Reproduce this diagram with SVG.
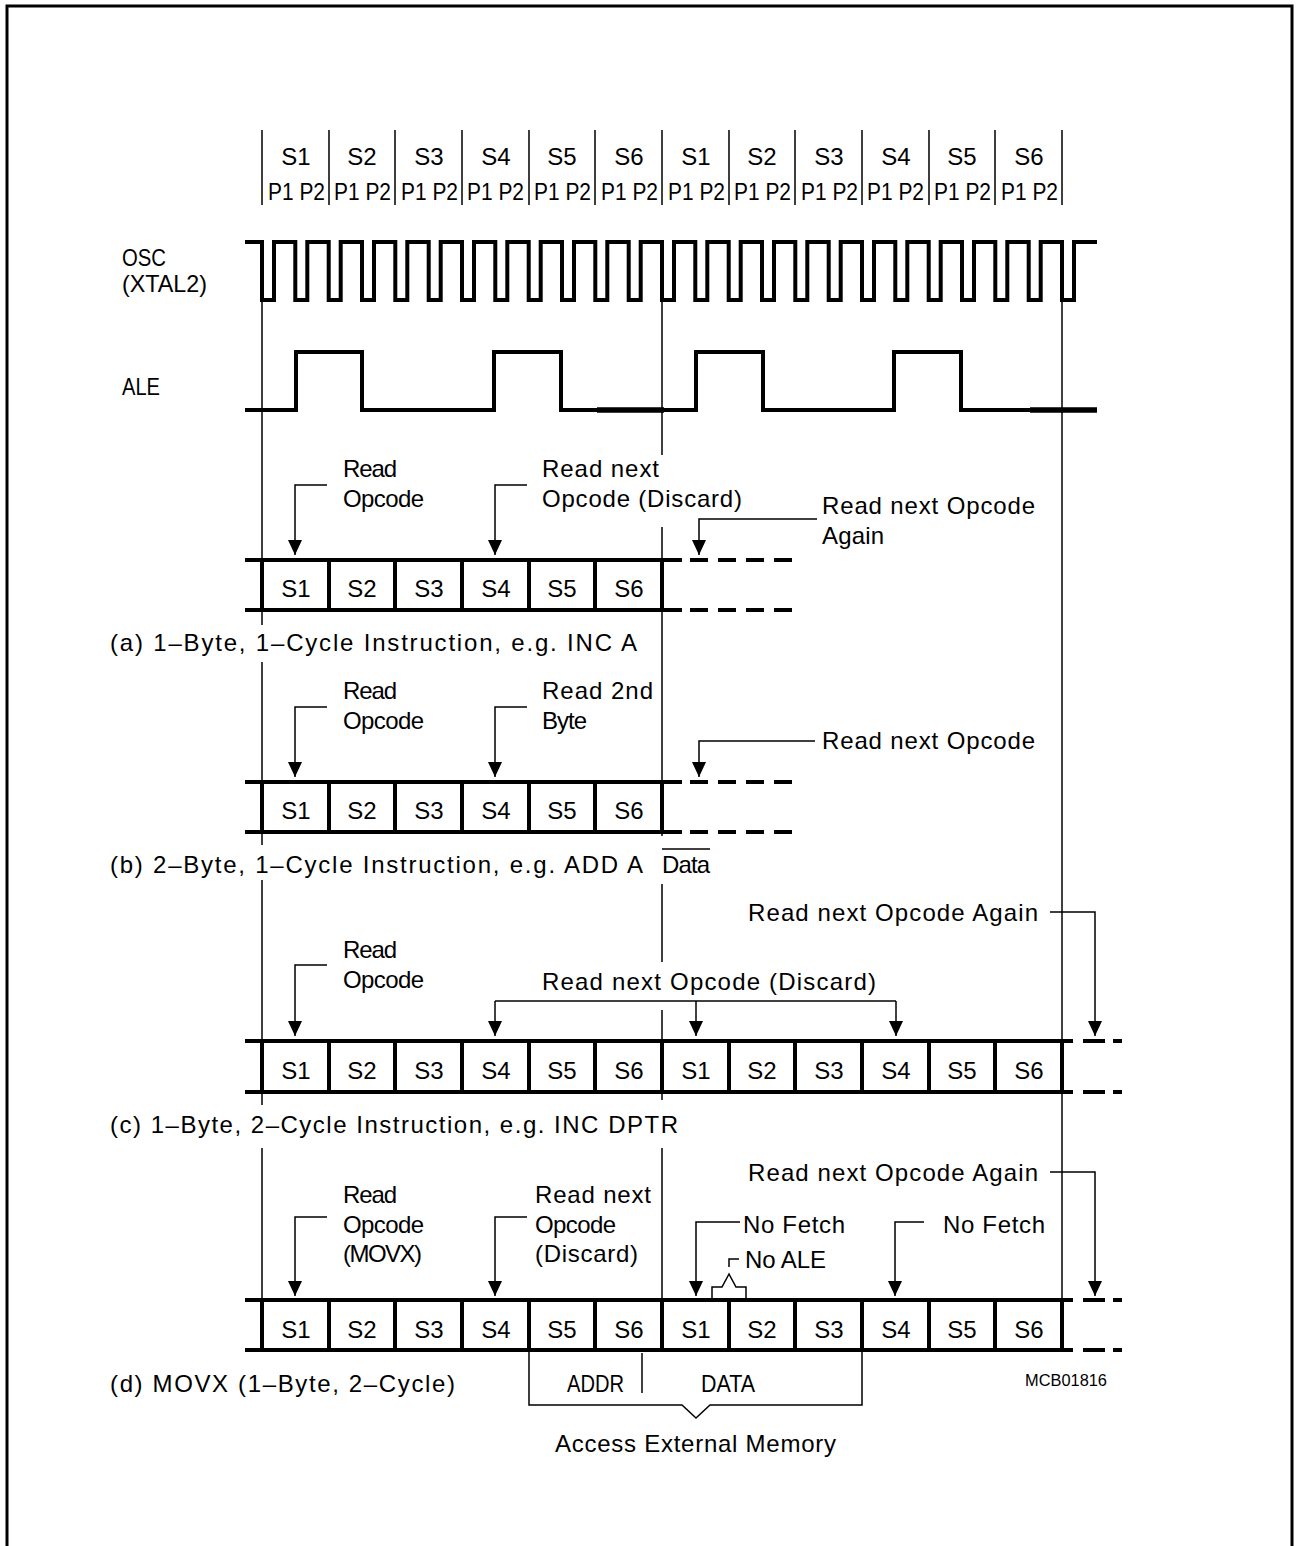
<svg xmlns="http://www.w3.org/2000/svg" width="1297" height="1546" viewBox="0 0 1297 1546">
<style>
text{font-family:"Liberation Sans",Arial,sans-serif;font-size:24px;fill:#000}
.c{text-anchor:middle}
.thin{stroke:#000;stroke-width:1.5;fill:none}
.thick{stroke:#000;stroke-width:4;fill:none}
.dash{stroke:#000;stroke-width:4;fill:none;stroke-dasharray:18 10}
.dash2{stroke:#000;stroke-width:4;fill:none;stroke-dasharray:22 8}
.arr{stroke:#000;stroke-width:1.5;fill:none;marker-end:url(#ah)}
.wave{stroke:#000;stroke-width:4;fill:none;stroke-linejoin:miter}
</style>
<defs>
<marker id="ah" markerUnits="userSpaceOnUse" markerWidth="16" markerHeight="16" refX="15" refY="7" orient="auto">
<path d="M0,0 L15,7 L0,14 z" fill="#000"/>
</marker>
</defs>
<rect width="1297" height="1546" fill="#fff"/>
<path d="M7,1546 V6 H1292 V1546" fill="none" stroke="#000" stroke-width="3"/>

<g id="header">
<path class="thin" d="M262,130V205M329,130V205M395,130V205M462,130V205M529,130V205M595,130V205M662,130V205M729,130V205M795,130V205M862,130V205M929,130V205M995,130V205M1062,130V205"/>
<text class="c" x="296" y="165">S1</text><text class="c" x="362" y="165">S2</text><text class="c" x="429" y="165">S3</text><text class="c" x="496" y="165">S4</text><text class="c" x="562" y="165">S5</text><text class="c" x="629" y="165">S6</text>
<text class="c" x="696" y="165">S1</text><text class="c" x="762" y="165">S2</text><text class="c" x="829" y="165">S3</text><text class="c" x="896" y="165">S4</text><text class="c" x="962" y="165">S5</text><text class="c" x="1029" y="165">S6</text>
<g style="font-size:23px">
<text x="268" y="200" textLength="57" lengthAdjust="spacingAndGlyphs">P1 P2</text><text x="334" y="200" textLength="57" lengthAdjust="spacingAndGlyphs">P1 P2</text><text x="401" y="200" textLength="57" lengthAdjust="spacingAndGlyphs">P1 P2</text><text x="467" y="200" textLength="57" lengthAdjust="spacingAndGlyphs">P1 P2</text><text x="534" y="200" textLength="57" lengthAdjust="spacingAndGlyphs">P1 P2</text><text x="601" y="200" textLength="57" lengthAdjust="spacingAndGlyphs">P1 P2</text>
<text x="668" y="200" textLength="57" lengthAdjust="spacingAndGlyphs">P1 P2</text><text x="734" y="200" textLength="57" lengthAdjust="spacingAndGlyphs">P1 P2</text><text x="801" y="200" textLength="57" lengthAdjust="spacingAndGlyphs">P1 P2</text><text x="867" y="200" textLength="57" lengthAdjust="spacingAndGlyphs">P1 P2</text><text x="934" y="200" textLength="57" lengthAdjust="spacingAndGlyphs">P1 P2</text><text x="1001" y="200" textLength="57" lengthAdjust="spacingAndGlyphs">P1 P2</text>
</g>
</g>

<g id="gridlines">
<path class="thin" d="M262,300V625M262,662V845M262,880V1105M262,1148V1300"/>
<path class="thin" d="M662,300V455M662,527V836M662,884V962M662,1010V1100M662,1148V1300"/>
<path class="thin" d="M1062,300V1300"/>
</g>

<g id="osc">
<text x="122" y="266" textLength="44" lengthAdjust="spacingAndGlyphs">OSC</text>
<text x="122" y="292" textLength="85" lengthAdjust="spacingAndGlyphs">(XTAL2)</text>
<path class="wave" d="M245,242 H262 V300 H274 V242 H295.3 V300 H307.3 V242 H328.7 V300 H340.7 V242 H362 V300 H374 V242 H395.3 V300 H407.3 V242 H428.7 V300 H440.7 V242 H462 V300 H474 V242 H495.3 V300 H507.3 V242 H528.7 V300 H540.7 V242 H562 V300 H574 V242 H595.3 V300 H607.3 V242 H628.7 V300 H640.7 V242 H662 V300 H674 V242 H695.3 V300 H707.3 V242 H728.7 V300 H740.7 V242 H762 V300 H774 V242 H795.3 V300 H807.3 V242 H828.7 V300 H840.7 V242 H862 V300 H874 V242 H895.3 V300 H907.3 V242 H928.7 V300 H940.7 V242 H962 V300 H974 V242 H995.3 V300 H1007.3 V242 H1028.7 V300 H1040.7 V242 H1062 V300 H1074 V242 H1097"/>
</g>

<g id="ale">
<text x="122" y="395" textLength="38" lengthAdjust="spacingAndGlyphs">ALE</text>
<path class="wave" d="M245,410 H296 V352 H362 V410 H494 V352 H561 V410 H696 V352 H763 V410 H894 V352 H961 V410 H1097"/>
<path d="M597,410H664M1030,410H1097" stroke="#000" stroke-width="5.5"/>
</g>

<g id="section-a">
<text x="343" y="477" textLength="54">Read</text>
<text x="343" y="507" textLength="81">Opcode</text>
<path class="arr" d="M327,485 H295 V555"/>
<text x="542" y="477" textLength="117">Read next</text>
<text x="542" y="507" textLength="200">Opcode (Discard)</text>
<path class="arr" d="M527,485 H495 V555"/>
<text x="822" y="514" textLength="213">Read next Opcode</text>
<text x="822" y="544" textLength="62">Again</text>
<path class="arr" d="M817,519 H699 V555"/>
<path class="thick" d="M245,560H682M245,610H682M262,560V610M329,560V610M395,560V610M462,560V610M529,560V610M595,560V610M662,560V610"/>
<path class="dash" d="M690,560H792M690,610H792"/>
<text class="c" x="296" y="597">S1</text><text class="c" x="362" y="597">S2</text><text class="c" x="429" y="597">S3</text><text class="c" x="496" y="597">S4</text><text class="c" x="562" y="597">S5</text><text class="c" x="629" y="597">S6</text>
<text x="110" y="651" textLength="527">(a) 1–Byte, 1–Cycle Instruction, e.g. INC A</text>
</g>

<g id="section-b">
<text x="343" y="699" textLength="54">Read</text>
<text x="343" y="729" textLength="81">Opcode</text>
<path class="arr" d="M327,707 H295 V777"/>
<text x="542" y="699" textLength="111">Read 2nd</text>
<text x="542" y="729" textLength="45">Byte</text>
<path class="arr" d="M527,707 H495 V777"/>
<text x="822" y="749" textLength="213">Read next Opcode</text>
<path class="arr" d="M815,741 H699 V777"/>
<path class="thick" d="M245,782H682M245,832H682M262,782V832M329,782V832M395,782V832M462,782V832M529,782V832M595,782V832M662,782V832"/>
<path class="dash" d="M690,782H792M690,832H792"/>
<text class="c" x="296" y="819">S1</text><text class="c" x="362" y="819">S2</text><text class="c" x="429" y="819">S3</text><text class="c" x="496" y="819">S4</text><text class="c" x="562" y="819">S5</text><text class="c" x="629" y="819">S6</text>
<text x="110" y="873"><tspan textLength="533">(b) 2–Byte, 1–Cycle Instruction, e.g. ADD A</tspan><tspan x="662" textLength="48">Data</tspan></text>
<path d="M662,849H710" stroke="#000" stroke-width="1.5"/>
</g>

<g id="section-c">
<text x="748" y="921" textLength="290">Read next Opcode Again</text>
<path class="arr" d="M1050,912 H1095 V1036"/>
<text x="343" y="958" textLength="54">Read</text>
<text x="343" y="988" textLength="81">Opcode</text>
<path class="arr" d="M327,965 H295 V1036"/>
<text x="542" y="990" textLength="334">Read next Opcode (Discard)</text>
<path class="thin" d="M495,1001H896"/>
<path class="arr" d="M495,1001V1036"/>
<path class="arr" d="M696,1001V1036"/>
<path class="arr" d="M896,1001V1036"/>
<path class="thick" d="M245,1041H1073M245,1092H1073M262,1041V1092M329,1041V1092M395,1041V1092M462,1041V1092M529,1041V1092M595,1041V1092M662,1041V1092M729,1041V1092M795,1041V1092M862,1041V1092M929,1041V1092M995,1041V1092M1062,1041V1092"/>
<path class="dash2" d="M1083,1041H1122M1083,1092H1122"/>
<text class="c" x="296" y="1079">S1</text><text class="c" x="362" y="1079">S2</text><text class="c" x="429" y="1079">S3</text><text class="c" x="496" y="1079">S4</text><text class="c" x="562" y="1079">S5</text><text class="c" x="629" y="1079">S6</text>
<text class="c" x="696" y="1079">S1</text><text class="c" x="762" y="1079">S2</text><text class="c" x="829" y="1079">S3</text><text class="c" x="896" y="1079">S4</text><text class="c" x="962" y="1079">S5</text><text class="c" x="1029" y="1079">S6</text>
<text x="110" y="1133" textLength="568">(c) 1–Byte, 2–Cycle Instruction, e.g. INC DPTR</text>
</g>

<g id="section-d">
<text x="748" y="1181" textLength="290">Read next Opcode Again</text>
<path class="arr" d="M1050,1172 H1095 V1296"/>
<text x="343" y="1203" textLength="54">Read</text>
<text x="343" y="1233" textLength="81">Opcode</text>
<text x="343" y="1262" textLength="79">(MOVX)</text>
<path class="arr" d="M327,1217 H295 V1296"/>
<text x="535" y="1203" textLength="116">Read next</text>
<text x="535" y="1233" textLength="81">Opcode</text>
<text x="535" y="1262" textLength="103">(Discard)</text>
<path class="arr" d="M527,1217 H495 V1296"/>
<text x="743" y="1233" textLength="102">No Fetch</text>
<path class="arr" d="M740,1222 H696 V1296"/>
<text x="745" y="1268" textLength="81">No ALE</text>
<path class="thin" d="M739,1259 H729 V1267"/>
<path class="thin" d="M712,1298 V1287 H722 L729,1274 L736,1287 H746 V1298"/>
<text x="943" y="1233" textLength="102">No Fetch</text>
<path class="arr" d="M924,1222 H895 V1296"/>
<path class="thick" d="M245,1300H1073M245,1350H1073M262,1300V1350M329,1300V1350M395,1300V1350M462,1300V1350M529,1300V1350M595,1300V1350M662,1300V1350M729,1300V1350M795,1300V1350M862,1300V1350M929,1300V1350M995,1300V1350M1062,1300V1350"/>
<path class="dash2" d="M1083,1300H1122M1083,1350H1122"/>
<text class="c" x="296" y="1338">S1</text><text class="c" x="362" y="1338">S2</text><text class="c" x="429" y="1338">S3</text><text class="c" x="496" y="1338">S4</text><text class="c" x="562" y="1338">S5</text><text class="c" x="629" y="1338">S6</text>
<text class="c" x="696" y="1338">S1</text><text class="c" x="762" y="1338">S2</text><text class="c" x="829" y="1338">S3</text><text class="c" x="896" y="1338">S4</text><text class="c" x="962" y="1338">S5</text><text class="c" x="1029" y="1338">S6</text>
<text x="110" y="1392" textLength="345">(d) MOVX (1–Byte, 2–Cycle)</text>
<path class="thin" d="M529,1352 V1405 H682 L696,1418 L710,1405 H862 V1352"/>
<path class="thin" d="M642,1353 V1393"/>
<text x="567" y="1392" textLength="57" lengthAdjust="spacingAndGlyphs">ADDR</text>
<text x="701" y="1392" textLength="54" lengthAdjust="spacingAndGlyphs">DATA</text>
<text x="555" y="1452" textLength="281">Access External Memory</text>
<text x="1025" y="1386" style="font-size:17px" textLength="82" lengthAdjust="spacingAndGlyphs">MCB01816</text>
</g>
</svg>
